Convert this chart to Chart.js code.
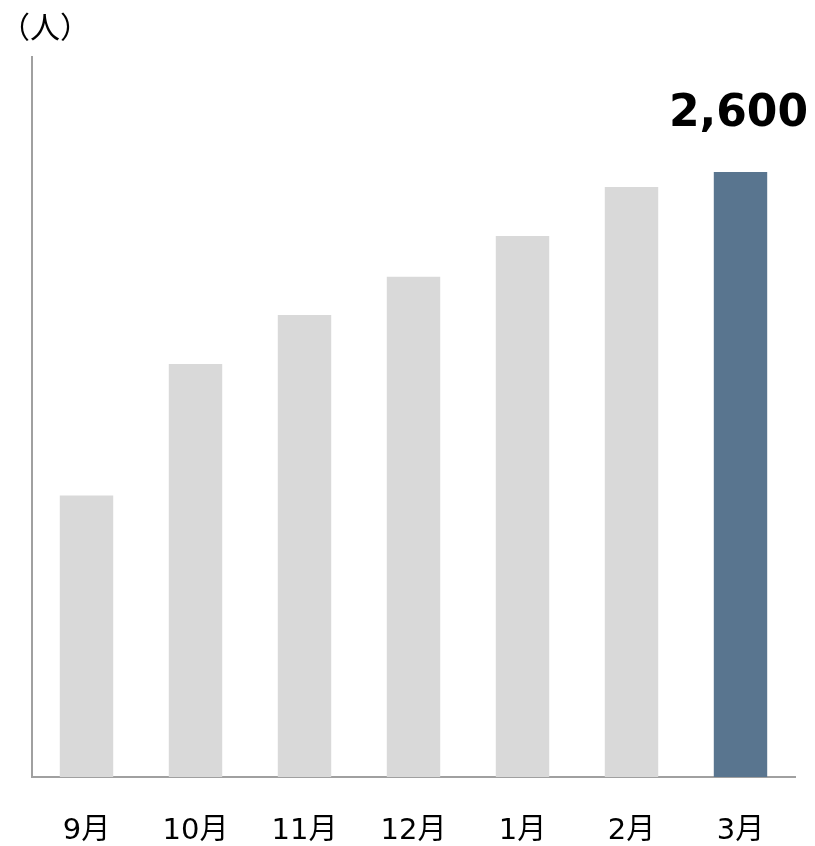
<!DOCTYPE html>
<html>
<head>
  <meta http-equiv="content-type" content="text/html; charset=utf-8"/>
  <script src="https://cdn.jsdelivr.net/npm/chart.js@4/dist/chart.umd.min.js"></script>
  <style>
    body { margin: 0; background: #fff; }
    #wrap { width: 815px; height: 846px; }
  </style>
</head>
<body>
<div id="wrap"><canvas id="chart" width="815" height="846"></canvas></div>

<script>
    const months = ['9月', '10月', '11月', '12月', '1月', '2月', '3月'];
    const members = [1210, 1775, 1985, 2150, 2325, 2535, 2600];
    const barColors = ['#d9d9d9', '#d9d9d9', '#d9d9d9', '#d9d9d9', '#d9d9d9', '#d9d9d9', '#59758f'];
    const unitLabel = '（人）';

    const fontFamily = '"DejaVu Sans", "Noto Sans CJK JP", sans-serif';

    // value printed above the last (highlighted) bar
    const lastValueLabel = {
        id: 'lastValueLabel',
        afterDatasetsDraw(chart) {
            const meta = chart.getDatasetMeta(0);
            const i = members.length - 1;
            const bar = meta.data[i];
            const ctx = chart.ctx;
            ctx.save();
            ctx.font = 'bold 44px ' + fontFamily;
            ctx.fillStyle = '#000';
            ctx.textAlign = 'center';
            ctx.textBaseline = 'alphabetic';
            ctx.fillText(members[i].toLocaleString('en-US'), bar.x - 2, bar.y - 46);
            ctx.restore();
        }
    };

    new Chart(document.getElementById('chart'), {
        type: 'bar',
        data: {
            labels: months,
            datasets: [{
                data: members,
                backgroundColor: barColors,
                borderWidth: 0,
                barPercentage: 0.49,
                categoryPercentage: 1.0
            }]
        },
        options: {
            responsive: false,
            animation: false,
            layout: { padding: { left: 0, right: 20, top: 0, bottom: 0 } },
            plugins: {
                legend: { display: false },
                tooltip: { enabled: false },
                title: {
                    display: true,
                    text: unitLabel,
                    align: 'start',
                    color: '#000',
                    font: { family: fontFamily, size: 30, weight: 'normal' },
                    padding: { top: 12, bottom: 9 }
                }
            },
            scales: {
                x: {
                    grid: { display: false, drawTicks: false },
                    border: { display: true, color: '#a0a0a0', width: 2 },
                    ticks: {
                        color: '#000',
                        padding: 37,
                        font: { family: fontFamily, size: 29 },
                        maxRotation: 0
                    },
                    afterFit(scale) { scale.height = 69; }
                },
                y: {
                    min: 0,
                    max: 3094,
                    grid: { display: false, drawTicks: false },
                    border: { display: true, color: '#a0a0a0', width: 2 },
                    ticks: { display: false },
                    afterFit(scale) { scale.width = 32; }
                }
            }
        },
        plugins: [lastValueLabel]
    });
</script>
</body>
</html>
